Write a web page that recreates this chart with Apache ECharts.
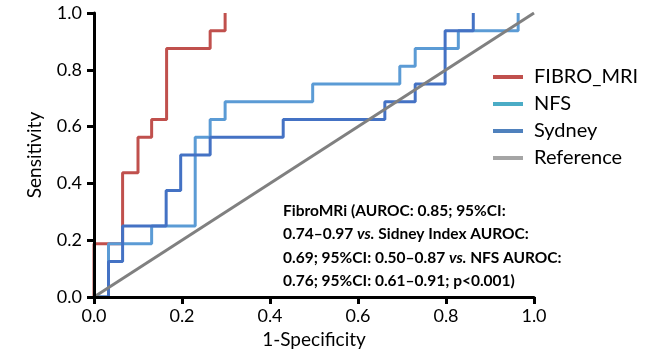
<!DOCTYPE html>
<html>
<head>
<meta charset="utf-8">
<script src="https://cdn.jsdelivr.net/npm/echarts@6/dist/echarts.min.js"></script>
<style>
  html, body { margin: 0; padding: 0; background: #fff; }
  #chart { width: 649px; height: 357px; }
</style>
</head>
<body>
<div id="chart"></div>
<script>
// step points of each ROC curve, [1-specificity, sensitivity]
var fibroMri = [
  [0, 0], [0, 0.1875], [0.065, 0.1875], [0.065, 0.4375], [0.1, 0.4375],
  [0.1, 0.5625], [0.131, 0.5625], [0.131, 0.625], [0.165, 0.625],
  [0.165, 0.875], [0.264, 0.875], [0.264, 0.9375], [0.298, 0.9375], [0.298, 1.0]
];
var nfs = [
  [0, 0], [0.033, 0], [0.033, 0.1875], [0.131, 0.1875], [0.131, 0.25],
  [0.23, 0.25], [0.23, 0.5625], [0.264, 0.5625], [0.264, 0.625],
  [0.298, 0.625], [0.298, 0.6875], [0.497, 0.6875], [0.497, 0.75],
  [0.695, 0.75], [0.695, 0.8125], [0.73, 0.8125], [0.73, 0.875],
  [0.828, 0.875], [0.828, 0.9375], [0.964, 0.9375], [0.964, 1.0]
];
var sydney = [
  [0, 0], [0.033, 0], [0.033, 0.125], [0.065, 0.125], [0.065, 0.25],
  [0.164, 0.25], [0.164, 0.375], [0.197, 0.375], [0.197, 0.5],
  [0.264, 0.5], [0.264, 0.5625], [0.43, 0.5625], [0.43, 0.625],
  [0.661, 0.625], [0.661, 0.6875], [0.73, 0.6875], [0.73, 0.75],
  [0.798, 0.75], [0.798, 0.9375], [0.862, 0.9375], [0.862, 1.0]
];
var reference = [[0, 0], [1, 1]];

var seriesNames = ['FIBRO_MRI', 'NFS', 'Sydney', 'Reference'];
var lineColors = ['#C0504D', '#5B9BD5', '#4472C4', '#808080'];
var legendColors = ['#C0504D', '#4BACC6', '#4F81BD', '#A5A5A5'];

var noteLines = [
  '{b|FibroMRi (AUROC: 0.85; 95%CI:}',
  '{b|0.74\u20130.97 }{i|vs.}{b| Sidney Index AUROC:}',
  '{b|0.69; 95%CI: 0.50\u20130.87 }{i|vs.}{b| NFS AUROC:}',
  '{b|0.76; 95%CI: 0.61\u20130.91; p<0.001)}'
];

var font = 'Lato, "Open Sans", sans-serif';
var chart = echarts.init(document.getElementById('chart'));

function valueAxis(name, isX) {
  return {
    type: 'value',
    min: 0,
    max: 1,
    interval: 0.2,
    z: 10,
    name: name,
    nameLocation: 'middle',
    nameGap: isX ? 30 : 50,
    nameTextStyle: { color: '#000', fontSize: 19, fontFamily: font },
    axisLine: { show: true, onZero: false, lineStyle: { color: '#000', width: 3 } },
    axisTick: { show: true, inside: false, length: 7, lineStyle: { color: '#000', width: 3 } },
    axisLabel: {
      color: '#000', fontSize: 18, fontFamily: font, margin: isX ? 10 : 12,
      formatter: function (v) { return v.toFixed(1); }
    },
    splitLine: { show: false }
  };
}

var datasets = [fibroMri, nfs, sydney, reference];

chart.setOption({
  animation: false,
  backgroundColor: '#fff',
  grid: { left: 94, top: 13, right: 115, bottom: 60 },
  xAxis: valueAxis('1-Specificity', true),
  yAxis: valueAxis('Sensitivity', false),
  legend: {
    orient: 'vertical',
    left: 488,
    top: 62,
    itemWidth: 30,
    itemHeight: 4,
    itemGap: 7,
    icon: 'rect',
    textStyle: { color: '#000', fontSize: 20, fontFamily: font, padding: [0, 0, 0, 6] },
    data: seriesNames.map(function (n, i) {
      return { name: n, itemStyle: { color: legendColors[i] } };
    })
  },
  series: seriesNames.map(function (n, i) {
    return {
      name: n,
      type: 'line',
      data: datasets[i],
      showSymbol: false,
      color: lineColors[i],
      lineStyle: { color: lineColors[i], width: 3 },
      z: 2 + i
    };
  }),
  graphic: [{
    type: 'text',
    left: 283,
    top: 199,
    style: {
      text: noteLines.join('\n'),
      lineHeight: 23.5,
      rich: {
        b: { fontSize: 15.5, fontWeight: 'bold', fontFamily: font, fill: '#000', lineHeight: 23.5 },
        i: { fontSize: 15.5, fontWeight: 'bold', fontStyle: 'italic', fontFamily: font, fill: '#000', lineHeight: 23.5 }
      }
    }
  }]
});
</script>
</body>
</html>
